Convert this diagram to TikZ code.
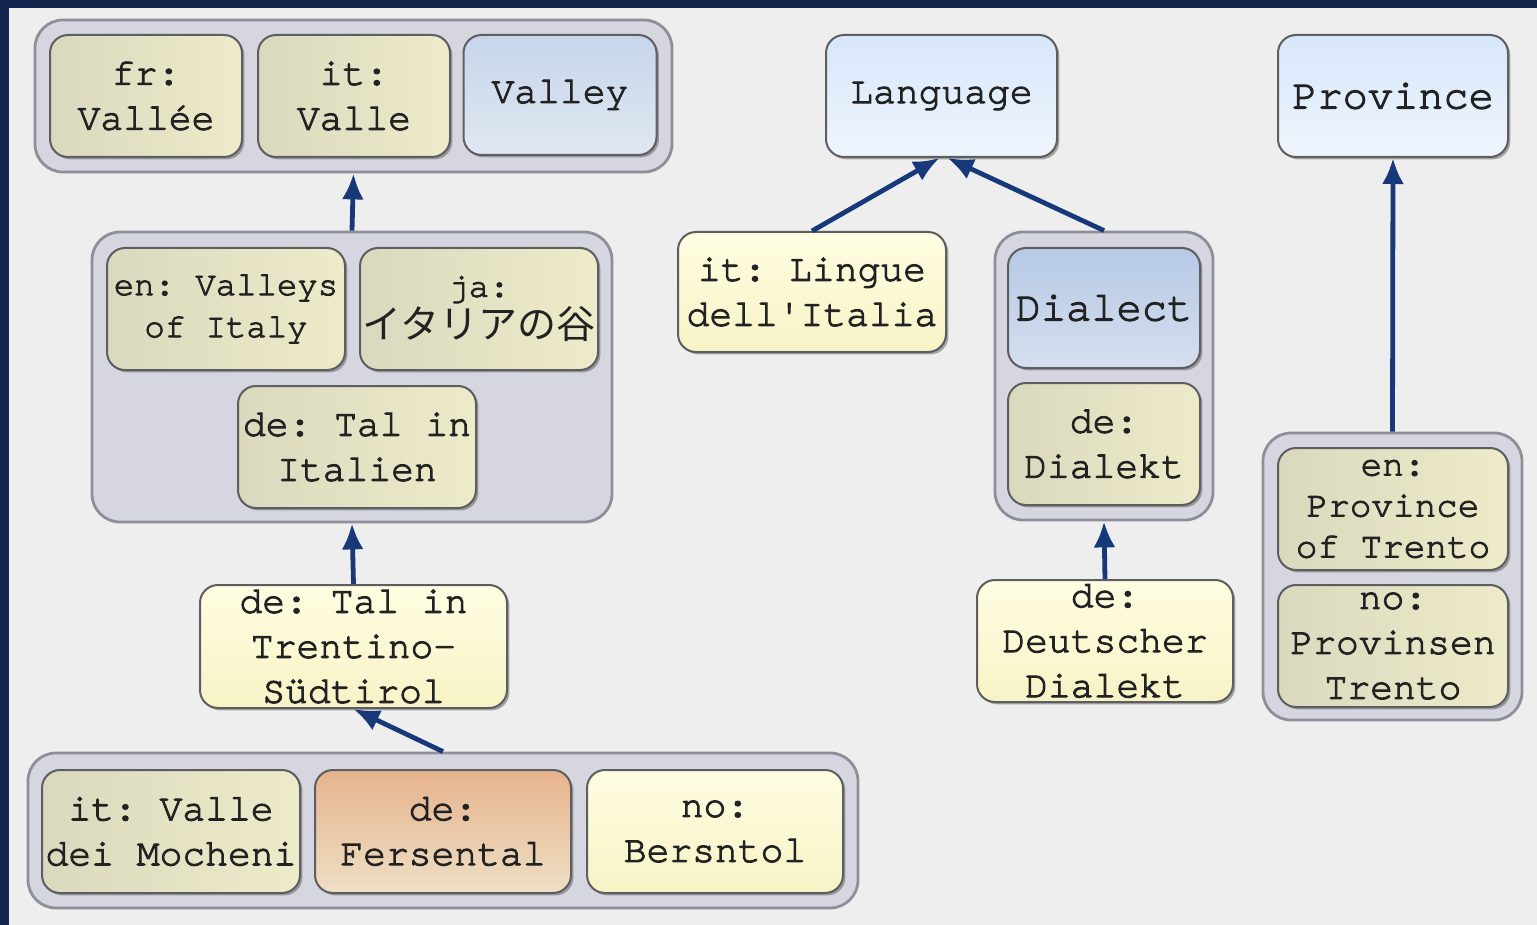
\documentclass[tikz,border=0pt]{standalone}
\usepackage{fontspec}
\setmonofont[FakeBold=2.6]{TeX Gyre Cursor}
\newfontfamily\cjk{Noto Sans CJK JP}
\usetikzlibrary{arrows.meta,shadows}
\definecolor{paper}{HTML}{EEEEEE}
\definecolor{frame}{HTML}{14264D}
\definecolor{navy}{HTML}{17397A}
\definecolor{grpfill}{HTML}{D5D6E0}
\definecolor{grpline}{HTML}{8E8F99}
\definecolor{boxline}{HTML}{5E5E60}
\definecolor{txt}{HTML}{222222}
\definecolor{beigeL}{HTML}{DAD9BE}
\definecolor{beigeR}{HTML}{EDEBC9}
\definecolor{paleT}{HTML}{FFFDE2}
\definecolor{paleB}{HTML}{F7F3C6}
\definecolor{valT}{HTML}{C6D5EA}
\definecolor{valB}{HTML}{E0E8F2}
\definecolor{diaT}{HTML}{B6C9E6}
\definecolor{diaB}{HTML}{D5DFEE}
\definecolor{skyT}{HTML}{D7E7FA}
\definecolor{skyB}{HTML}{EFF5FD}
\definecolor{peachT}{HTML}{E6B38C}
\definecolor{peachB}{HTML}{EEDFC6}

\begin{document}
\begin{tikzpicture}[x=0.5pt,y=-0.5pt,
  grp/.style={draw=grpline,line width=1.4pt,fill=grpfill,rounded corners=14pt,inner sep=0pt},
  term/.style={draw=boxline,line width=1pt,rounded corners=9pt,inner sep=0pt,align=center,text=txt,
    font=\ttfamily\fontsize{19}{22.5}\selectfont,
    drop shadow={shadow xshift=1.2pt,shadow yshift=-1.2pt,opacity=.45,fill=black!70}},
  big/.style={font=\ttfamily\fontsize{21}{24}\selectfont},
  small/.style={font=\ttfamily\fontsize{17}{21}\selectfont},
  beige/.style={left color=beigeL,right color=beigeR},
  pale/.style={top color=paleT,bottom color=paleB},
  bluish/.style={top color=valT,bottom color=valB},
  dialect/.style={top color=diaT,bottom color=diaB},
  sky/.style={top color=skyT,bottom color=skyB},
  peach/.style={top color=peachT,bottom color=peachB},
  isa/.style={navy,line width=2.4pt,-{Latex[length=13pt,width=11pt]}}
]
\useasboundingbox (0,0) rectangle (1537,925);
\fill[paper] (0,0) rectangle (1537,925);
\fill[frame] (0,0) rectangle (1537,8);
\fill[frame] (0,0) rectangle (9,925);

% groups
\node[grp,minimum width=318.5pt,minimum height=76pt] (G1) at (353.5,96) {};
\node[grp,minimum width=260pt,minimum height=145pt] (G2) at (352,377) {};
\node[grp,minimum width=415pt,minimum height=77.5pt] (G4) at (443,830.5) {};
\node[grp,minimum width=109pt,minimum height=144pt] (G5) at (1104,376) {};
\node[grp,minimum width=129.5pt,minimum height=143.5pt] (G6) at (1392.5,576.5) {};

% valley
\node[term,beige,minimum width=96pt,minimum height=61pt] (fr) at (146,96) {fr:\\Vallée};
\node[term,beige,minimum width=96pt,minimum height=61pt] (itV) at (354,96) {it:\\Valle};
\node[term,bluish,minimum width=96.5pt,minimum height=60pt] (valley) at (560,95) {Valley};
\node[term,beige,small,minimum width=119pt,minimum height=61pt] (en) at (226,309) {en: Valleys\\of Italy};
\node[term,beige,small,minimum width=119pt,minimum height=61pt] (ja) at (479,309) {ja:\\{\cjk\fontsize{19.5}{21}\selectfont イタリアの谷}};
\node[term,beige,minimum width=119pt,minimum height=61pt] (deI) at (357,447) {de: Tal in\\Italien};
\node[term,pale,minimum width=153.5pt,minimum height=61.5pt] (deT) at (353.5,646.5) {de: Tal in\\Trentino-\\Südtirol};
\node[term,beige,minimum width=129pt,minimum height=61.5pt] (itM) at (171,831.5) {it: Valle\\dei Mocheni};
\node[term,peach,minimum width=128pt,minimum height=61.5pt] (deF) at (443,831.5) {de:\\Fersental};
\node[term,pale,minimum width=128pt,minimum height=61.5pt] (noB) at (715,831.5) {no:\\Bersntol};

% language
\node[term,sky,minimum width=115.5pt,minimum height=61pt] (lang) at (941.5,96) {Language};
\node[term,pale,minimum width=134pt,minimum height=60pt] (itL) at (812,292) {it: Lingue\\dell'Italia};
\node[term,dialect,big,minimum width=96pt,minimum height=60pt] (dial) at (1104,308) {Dialect};
\node[term,beige,minimum width=96pt,minimum height=61pt] (deD) at (1104,444) {de:\\Dialekt};
\node[term,pale,minimum width=128pt,minimum height=61pt] (deDD) at (1105,641) {de:\\Deutscher\\Dialekt};

% province
\node[term,sky,big,minimum width=115pt,minimum height=61pt] (prov) at (1393,96) {Province};
\node[term,beige,font=\ttfamily\fontsize{18}{20.5}\selectfont,minimum width=115pt,minimum height=61pt] (enP) at (1393,509) {en:\\Province\\of Trento};
\node[term,beige,minimum width=115pt,minimum height=61pt] (noP) at (1393,646) {no:\\Provinsen\\Trento};

% links
\draw[isa] (G2.north) -- (G1.south);
\draw[isa] (deT.north) -- (G2.south);
\draw[isa] (G4.north) -- (deT.south);
\draw[isa] (itL.north) -- ([xshift=-1pt]lang.south);
\draw[isa] (G5.north) -- ([xshift=3pt]lang.south);
\draw[isa] (deDD.north) -- (G5.south);
\draw[isa] (G6.north) -- (prov.south);
\end{tikzpicture}
\end{document}
